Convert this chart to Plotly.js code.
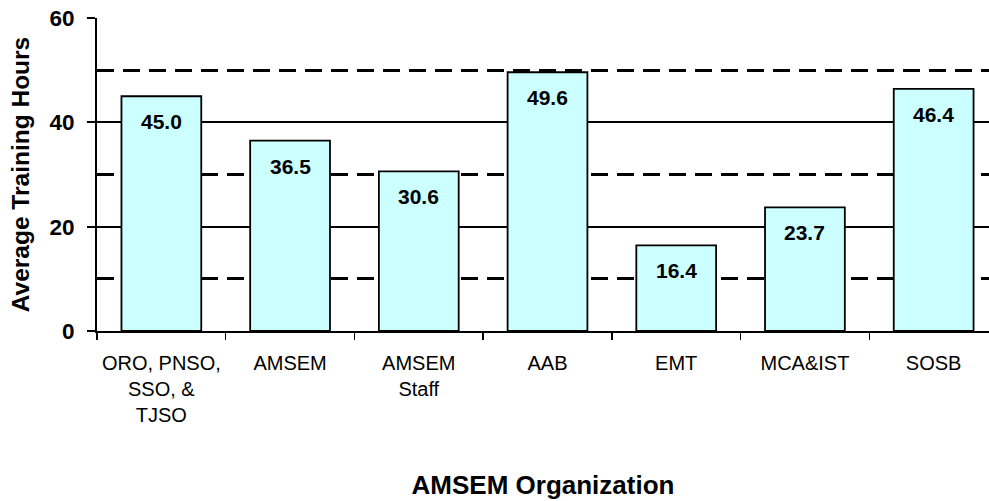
<!DOCTYPE html>
<html>
<head>
<meta charset="utf-8">
<script src="https://cdn.plot.ly/plotly-3.0.1.min.js"></script>
<style>html,body{margin:0;padding:0;background:#fff;overflow:hidden}</style>
</head>
<body>
<div id="chart" style="width:989px;height:501px"></div>
<script>
// Data
const categories = ["ORO, PNSO,<br>SSO, &<br>TJSO", "AMSEM", "AMSEM<br>Staff", "AAB", "EMT", "MCA&IST", "SOSB"];
const hours = [45.0, 36.5, 30.6, 49.6, 16.4, 23.7, 46.4];
const yTickVals = [0, 20, 40, 60];
const yTickText = ["0", "20", "40", "60"];
const yDashedVals = [10, 30, 50];

const FONT = "'Liberation Sans', Arial, sans-serif";

const trace = {
  type: "bar",
  x: categories,
  y: hours,
  width: 0.62,
  marker: { color: "#CCFFFF", line: { color: "#000000", width: 1.8 } },
  hoverinfo: "none"
};

const annotations = categories.map((c, i) => ({
  x: c, y: hours[i], xref: "x", yref: "y",
  text: hours[i].toFixed(1),
  showarrow: false, yanchor: "top", yshift: -12,
  font: { family: FONT, size: 21, color: "#000", weight: "bold" }
}));

const layout = {
  width: 989, height: 501,
  margin: { l: 97, r: 0, t: 18, b: 170 },
  paper_bgcolor: "#fff", plot_bgcolor: "#fff",
  showlegend: false,
  annotations: annotations,
  xaxis: {
    type: "category",
    range: [-0.5, 6.43],
    showline: true, linecolor: "#000", linewidth: 2,
    ticks: "outside", tickson: "boundaries", ticklen: 7, tickwidth: 1.5, tickcolor: "#000",
    ticklabelstandoff: 13, tickangle: 0,
    showgrid: false, zeroline: false,
    tickfont: { family: FONT, size: 20, color: "#000" },
    automargin: true,
    title: { text: "AMSEM Organization", standoff: 51,
      font: { family: FONT, size: 26, color: "#000", weight: "bold" } }
  },
  yaxis: {
    range: [0, 60],
    tickmode: "array", tickvals: yTickVals, ticktext: yTickText,
    showline: true, linecolor: "#000", linewidth: 2,
    ticks: "outside", ticklen: 8, tickwidth: 2, tickcolor: "#000",
    ticklabelstandoff: 8,
    showgrid: true, gridcolor: "#000", gridwidth: 1.8,
    zeroline: false,
    minor: { tickmode: "array", tickvals: yDashedVals, showgrid: true, gridcolor: "#000", gridwidth: 2.8, griddash: "17px,9px", ticks: "" },
    tickfont: { family: FONT, size: 22.5, color: "#000", weight: "bold" },
    automargin: true,
    title: { text: "Average Training Hours", standoff: 13,
      font: { family: FONT, size: 24.5, color: "#000", weight: "bold" } }
  }
};

Plotly.newPlot("chart", [trace], layout, { displayModeBar: false, staticPlot: true });
</script>
</body>
</html>
